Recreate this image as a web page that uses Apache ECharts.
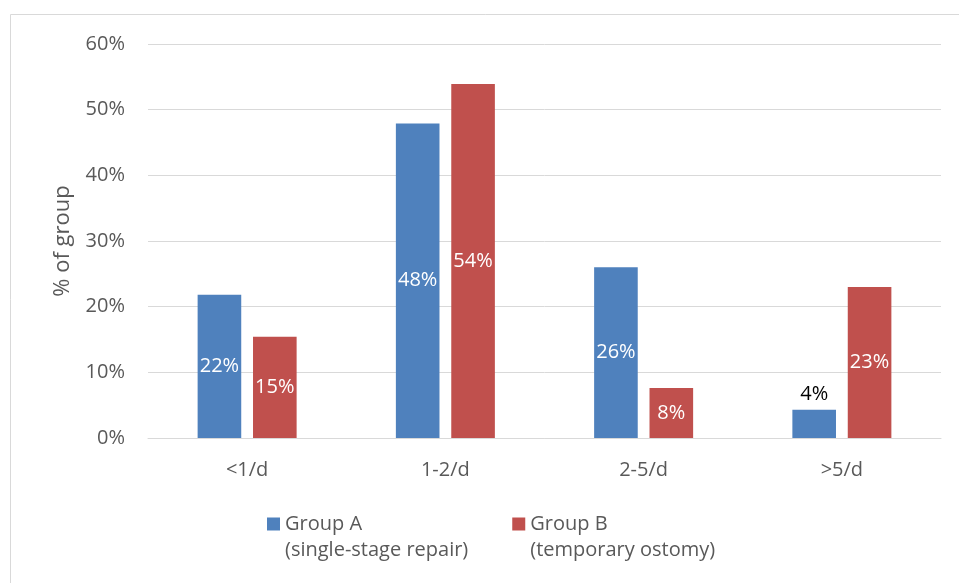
<!DOCTYPE html>
<html lang="en">
<head>
    <meta charset="UTF-8">
    <title>Stool frequency by group</title>
    <style>
        html, body { margin: 0; padding: 0; background: #fff; }
        #chart { width: 959px; height: 583px; }
    </style>
</head>
<body>
<div id="chart"></div>

<script src="https://cdn.jsdelivr.net/npm/echarts@6/dist/echarts.min.js"></script>
<script>
// data (percent of group)
const categories = ['<1/d', '1-2/d', '2-5/d', '>5/d'];
const groupA = [21.8, 47.9, 26.0, 4.3];
const groupB = [15.4, 53.9, 7.6, 23.0];
const yTicks = [0, 10, 20, 30, 40, 50, 60];

const FONT = '"Open Sans", sans-serif';
const TEXT = '#595959';
const SIZE = 20;

// small bars get their label on top, in dark text
function barData(values) {
    return values.map(v => v < 6
        ? { value: v, label: { position: 'top', color: '#000' } }
        : v);
}

const chart = echarts.init(document.getElementById('chart'));
chart.setOption({
    animation: false,
    textStyle: { fontFamily: FONT },
    graphic: [{
        type: 'rect',
        shape: { x: 10.5, y: 14.5, width: 960, height: 600 },
        style: { fill: 'none', stroke: '#d9d9d9', lineWidth: 1 }
    }],
    grid: { left: 148, right: 18, top: 44, bottom: 145 },
    legend: {
        left: 262,
        top: 480,
        itemWidth: 13,
        itemHeight: 13,
        itemGap: 44,
        icon: 'rect',
        data: ['Group A', 'Group B'],
        // leading empty line keeps the swatch level with the first text line
        formatter: name => name === 'Group A'
            ? '\nGroup A\n(single-stage repair)'
            : '\nGroup B\n(temporary ostomy)',
        textStyle: {
            color: TEXT, fontSize: SIZE, fontFamily: FONT, lineHeight: 26
        }
    },
    xAxis: {
        type: 'category',
        data: categories,
        axisLine: { lineStyle: { color: '#d9d9d9' } },
        axisTick: { show: false },
        axisLabel: { color: TEXT, fontSize: SIZE, margin: 22, fontFamily: FONT }
    },
    yAxis: {
        type: 'value',
        min: yTicks[0],
        max: yTicks[yTicks.length - 1],
        interval: 10,
        name: '% of group',
        nameLocation: 'middle',
        nameGap: 74,
        nameTextStyle: { color: TEXT, fontSize: 22, fontFamily: FONT },
        axisLine: { show: false },
        axisTick: { show: false },
        axisLabel: { color: TEXT, fontSize: SIZE, margin: 23, fontFamily: FONT, formatter: '{value}%' },
        splitLine: { lineStyle: { color: '#d9d9d9' } }
    },
    series: [
        {
            name: 'Group A',
            type: 'bar',
            data: barData(groupA),
            barWidth: '22%',
            barGap: '27%',
            itemStyle: { color: '#4F81BD' },
            label: {
                show: true, position: 'inside', color: '#fff', fontSize: SIZE, fontFamily: FONT,
                formatter: p => Math.round(p.value) + '%'
            }
        },
        {
            name: 'Group B',
            type: 'bar',
            data: barData(groupB),
            barWidth: '22%',
            barGap: '27%',
            itemStyle: { color: '#C0504D' },
            label: {
                show: true, position: 'inside', color: '#fff', fontSize: SIZE, fontFamily: FONT,
                formatter: p => Math.round(p.value) + '%'
            }
        }
    ]
});
window.addEventListener('resize', function() { chart.resize(); });
</script>
</body>
</html>
